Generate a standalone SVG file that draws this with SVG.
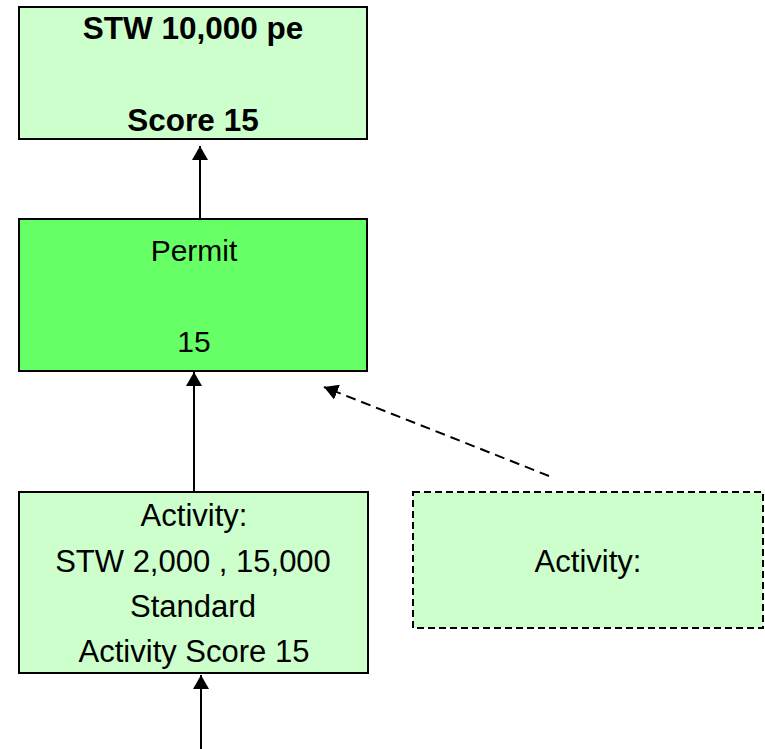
<svg xmlns="http://www.w3.org/2000/svg" width="765" height="749" viewBox="0 0 765 749">
<defs>
<marker id="ah" markerWidth="7" markerHeight="8" refX="7" refY="4" orient="auto" markerUnits="strokeWidth">
<path d="M0,0 L7,4 L0,8 Z" fill="#000"/>
</marker>
<style>
.box{stroke:#000;stroke-width:2}
.light{fill:#CCFFCC}
.bright{fill:#66FF66}
.dash{stroke-dasharray:7 4}
text{font-family:"Liberation Sans",Arial,sans-serif;font-size:31px;fill:#000;text-anchor:middle}
.b{font-weight:bold;font-size:31.5px}
.p{font-size:30px}
.conn{stroke:#000;stroke-width:2;fill:none}
</style>
</defs>
<rect width="765" height="749" fill="#fff"/>
<g id="connectors">
<line class="conn" x1="200" y1="219" x2="200" y2="146" marker-end="url(#ah)"/>
<line class="conn" x1="194" y1="491" x2="194" y2="372" marker-end="url(#ah)"/>
<line class="conn" x1="549" y1="476" x2="324" y2="387" stroke-dasharray="10 6" marker-end="url(#ah)"/>
<line class="conn" x1="201" y1="749" x2="201" y2="675" marker-end="url(#ah)"/>
</g>
<g id="stw">
<rect class="box light" x="19" y="7" width="348" height="132"/>
<text class="b" x="193" y="39">STW 10,000 pe</text>
<text class="b" x="193" y="131">Score 15</text>
</g>
<g id="permit">
<rect class="box bright" x="19" y="219" width="348" height="152"/>
<text class="p" x="194" y="261">Permit</text>
<text class="p" x="194" y="352">15</text>
</g>
<g id="activity1">
<rect class="box light" x="19" y="492" width="349" height="181"/>
<text x="194" y="526">Activity:</text>
<text x="193" y="572">STW 2,000 , 15,000</text>
<text x="193" y="617">Standard</text>
<text x="194" y="662">Activity Score 15</text>
</g>
<g id="activity2">
<rect class="box light dash" x="413" y="492" width="350" height="136"/>
<text x="588" y="572">Activity:</text>
</g>
</svg>
